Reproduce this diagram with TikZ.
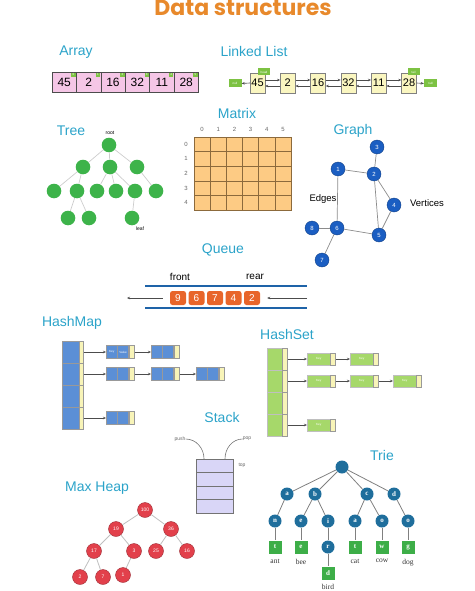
\documentclass[tikz,border=0pt]{standalone}
\usepackage{fontspec}
\setmainfont{Liberation Sans}
\newfontfamily\titlefont{Poppins}
\newfontfamily\wordfont{Liberation Serif}
\usepackage{tikz}
\usetikzlibrary{positioning, arrows.meta, shapes}
\usepackage{xcolor}
\definecolor{LabelBlue}{RGB}{43, 163, 201}
\definecolor{TitleOrange}{RGB}{232, 137, 43}
\definecolor{ArrPink}{RGB}{245, 198, 230}
\definecolor{ListYellow}{RGB}{250, 246, 192}
\definecolor{MarkGreen}{RGB}{125, 194, 67}
\definecolor{TreeGreen}{RGB}{61, 179, 74}
\definecolor{MatOrange}{RGB}{253, 203, 132}
\definecolor{MatBrown}{RGB}{140, 106, 60}
\definecolor{GraphBlue}{RGB}{27, 94, 194}
\definecolor{QueueBlue}{RGB}{30, 99, 168}
\definecolor{QueueOrange}{RGB}{232, 101, 42}
\definecolor{MapBlue}{RGB}{91, 143, 214}
\definecolor{StripYellow}{RGB}{248, 244, 184}
\definecolor{SetGreen}{RGB}{166, 216, 106}
\definecolor{StackLilac}{RGB}{217, 214, 247}
\definecolor{HeapRed}{RGB}{226, 64, 75}
\definecolor{TrieBlue}{RGB}{31, 110, 156}
\definecolor{TrieGreen}{RGB}{61, 174, 72}

\begin{document}
\begin{tikzpicture}[x=1pt, y=-1pt]
  \useasboundingbox (0,0) rectangle (474,591);
  \tikzstyle{lbl} = [font=\fontsize{14}{14}\selectfont, text=LabelBlue, inner sep=0pt]
  \tikzstyle{arr} = [draw=black!70, line width=0.6pt, -{Stealth[length=3pt, width=2.5pt]}]
  \tikzstyle{tiny} = [font=\fontsize{3}{3}\selectfont, inner sep=0pt]
  \tikzstyle{small} = [font=\fontsize{6}{6}\selectfont, text=black!60, inner sep=0pt]

  % Titel
  \node[font=\titlefont\bfseries\fontsize{22}{22}\selectfont, text=TitleOrange, anchor=base] (title) at (243,15.5) {Data structures};

  % Array
  \tikzstyle{arrcell} = [rectangle, draw=black!70, fill=ArrPink, minimum width=24.4pt, minimum height=20pt,
    inner sep=0pt, font=\fontsize{12}{12}\selectfont]
  \tikzstyle{arridx} = [rectangle, fill=MarkGreen, minimum size=4.5pt, inner sep=0pt, font=\fontsize{3}{3}\selectfont, text=white]
  \node[lbl] (arraylbl) at (76,52) {Array};
  \foreach \v [count=\i from 0] in {45,2,16,32,11,28} {
    \node[arrcell] (a\i) at (64.2+24.4*\i, 82) {\v};
    \node[arridx, anchor=north east] (ai\i) at ([xshift=-0.6pt, yshift=-0.6pt]a\i.north east) {\i};
  }

  % Linked List
  \tikzstyle{lcell} = [rectangle, draw=black!50, fill=ListYellow, minimum width=15pt, minimum height=20pt,
    inner sep=0pt, font=\fontsize{11}{11}\selectfont]
  \tikzstyle{lmark} = [rectangle, fill=MarkGreen, minimum width=13pt, minimum height=8pt, inner sep=0pt,
    font=\fontsize{3}{3}\selectfont, text=white]
  \node[lbl] (listlbl) at (254,51) {Linked List};
  \foreach \v [count=\i] in {45,2,16,32,11,28}
    \node[lcell] (l\i) at (257.5+30.3*\i-30.3, 83) {\v};
  \node[lmark] (nulll) at (235,83.5) {null};
  \node[lmark] (nullr) at (430.5,83.5) {null};
  \node[lmark, minimum width=12pt, minimum height=7pt] (head) at (264,72) {head};
  \node[lmark, minimum width=12pt, minimum height=7pt] (tail) at (413.5,72) {tail};
  \foreach \i [evaluate=\i as \j using int(\i+1)] in {1,...,5} {
    \draw[arr] ([yshift=3pt]l\i.east) -- ([yshift=3pt]l\j.west);
    \draw[arr] ([yshift=-3pt]l\j.west) -- ([yshift=-3pt]l\i.east);
  }
  \draw[arr] (l1.west) -- (nulll.east);
  \draw[arr] (l6.east) -- (nullr.west);

  % Tree
  \tikzstyle{tnode} = [circle, fill=TreeGreen, minimum size=14.6pt, inner sep=0pt]
  \tikzstyle{tedge} = [draw=black!20, line width=0.7pt]
  \node[lbl] (treelbl) at (71,131) {Tree};
  \node[tnode] (t0) at (109,145) {};
  \node[tnode] (t1) at (83,167) {};
  \node[tnode] (t2) at (110,167) {};
  \node[tnode] (t3) at (137,167) {};
  \foreach \x [count=\i from 4] in {54,77,97,116,135,156}
    \node[tnode] (t\i) at (\x,191) {};
  \node[tnode] (t10) at (68,218) {};
  \node[tnode] (t11) at (89,218) {};
  \node[tnode] (t12) at (132,218) {};
  \node[small, text=black, font=\fontsize{5}{5}\selectfont] (rootlbl) at (110,133) {root};
  \node[small, text=black, font=\fontsize{5}{5}\selectfont] (leaflbl) at (140,229) {leaf};
  \begin{scope}[on background layer/.try]
  \foreach \a/\b in {t0/t1,t0/t2,t0/t3,t1/t4,t1/t5,t2/t6,t2/t7,t2/t8,t3/t9,t5/t10,t5/t11,t8/t12}
    \draw[tedge] (\a) -- (\b);
  \end{scope}

  % Matrix
  \tikzstyle{mcell} = [rectangle, draw=MatBrown, fill=MatOrange, minimum width=16.17pt, minimum height=14.6pt, inner sep=0pt]
  \node[lbl] (matlbl) at (237,113) {Matrix};
  \foreach \r in {0,...,4}
    \foreach \c in {0,...,5}
      \node[mcell] (m\r\c) at (202.1+16.17*\c, 144.3+14.6*\r) {};
  \foreach \c in {0,...,5}
    \node[small] (mcol\c) at (202.1+16.17*\c, 129) {\c};
  \foreach \r in {0,...,4}
    \node[small] (mrow\r) at (186, 144.3+14.6*\r) {\r};

  % Graph
  \tikzstyle{gnode} = [circle, fill=GraphBlue, draw=GraphBlue!70!black, minimum size=14pt, inner sep=0pt,
    text=white, font=\fontsize{6}{6}\selectfont]
  \tikzstyle{gedge} = [draw=black!45, line width=0.7pt]
  \node[lbl] (graphlbl) at (353,131) {Graph};
  \foreach \n/\x/\y in {1/338/169, 2/374/174, 3/377/147, 4/394/205, 5/379/235, 6/337/228, 7/322/260, 8/312/228}
    \node[gnode] (g\n) at (\x,\y) {\n};
  \foreach \a/\b in {1/2,2/3,2/4,2/5,4/5,1/6,6/5,6/8,6/7}
    \draw[gedge] (g\a) -- (g\b);
  \node[font=\fontsize{9.5}{9.5}\selectfont] (edgeslbl) at (323,199) {Edges};
  \node[font=\fontsize{9.5}{9.5}\selectfont] (vertlbl) at (427,203) {Vertices};

  % Queue
  \tikzstyle{qitem} = [rectangle, rounded corners=2.5pt, fill=QueueOrange, minimum width=16pt, minimum height=14pt,
    inner sep=0pt, text=white, font=\fontsize{10}{10}\selectfont]
  \node[lbl] (queuelbl) at (223,250) {Queue};
  \draw[QueueBlue, line width=2pt] (145,286) -- (307,286);
  \draw[QueueBlue, line width=2pt] (145,308) -- (307,308);
  \foreach \v [count=\i] in {9,6,7,4,2}
    \node[qitem] (q\i) at (178+18.5*\i-18.5, 298) {\v};
  \coordinate (qout) at (127,298);
  \coordinate (qin) at (307,298);
  \draw[arr] ([xshift=-7pt]q1.west) -- (qout);
  \draw[arr] (qin) -- ([xshift=7pt]q5.east);
  \node[font=\fontsize{10}{10}\selectfont] (frontlbl) at (180,277) {front};
  \node[font=\fontsize{10}{10}\selectfont] (rearlbl) at (255,277) {rear};

  % HashMap
  \tikzstyle{hmcell} = [rectangle, draw=black!40, fill=MapBlue, inner sep=0pt]
  \tikzstyle{hmstrip} = [rectangle, draw=black!40, fill=StripYellow, inner sep=0pt]
  \node[lbl] (maplbl) at (72,323) {HashMap};
  \foreach \i in {1,...,4} {
    \node[hmcell, minimum width=17pt, minimum height=22pt] (hm\i) at (70.5, 330+22*\i) {};
    \node[hmstrip, minimum width=4pt, minimum height=22pt, right=0pt of hm\i] (hmp\i) {};
  }
  \foreach \r/\c/\x in {1/1/106,1/2/151,2/1/106,2/2/151,2/3/196,4/1/106} {
    \node[hmcell, minimum width=11pt, minimum height=13pt, anchor=west] (hk\r\c) at (\x, 330+22*\r) {};
    \node[hmcell, minimum width=11pt, minimum height=13pt, right=0pt of hk\r\c] (hv\r\c) {};
    \node[hmstrip, minimum width=5.5pt, minimum height=13pt, right=0pt of hv\r\c] (hp\r\c) {};
  }
  \node[tiny, text=white] (keytxt) at (hk11) {Key};
  \node[tiny, text=white] (valtxt) at (hv11) {Value};
  \draw[arr] (hmp1.east) -- (hk11.west);
  \draw[arr] (hp11.east) -- (hk12.west);
  \draw[arr] (hmp2.east) -- (hk21.west);
  \draw[arr] (hp21.east) -- (hk22.west);
  \draw[arr] (hp22.east) -- (hk23.west);
  \draw[arr] (hmp4.east) -- (hk41.west);

  % HashSet
  \tikzstyle{hscell} = [rectangle, draw=black!25, fill=SetGreen, inner sep=0pt]
  \node[lbl] (setlbl) at (287,334) {HashSet};
  \foreach \i in {1,...,4} {
    \node[hscell, minimum width=15pt, minimum height=22pt] (hs\i) at (274.5, 337+22*\i) {};
    \node[hmstrip, minimum width=5pt, minimum height=22pt, right=0pt of hs\i] (hsp\i) {};
  }
  \foreach \r/\c/\x in {1/1/307,1/2/350,2/1/307,2/2/350,2/3/393,4/1/307} {
    \node[hscell, minimum width=23pt, minimum height=12pt, anchor=west, tiny, text=white] (sk\r\c) at (\x, 337+22*\r) {Key};
    \node[hmstrip, minimum width=5pt, minimum height=12pt, right=0pt of sk\r\c] (sp\r\c) {};
  }
  \draw[arr] (hsp1.east) -- (sk11.west);
  \draw[arr] (sp11.east) -- (sk12.west);
  \draw[arr] (hsp2.east) -- (sk21.west);
  \draw[arr] (sp21.east) -- (sk22.west);
  \draw[arr] (sp22.east) -- (sk23.west);
  \draw[arr] (hsp4.east) -- (sk41.west);

  % Stack
  \tikzstyle{scell} = [rectangle, draw=black!55, fill=StackLilac, minimum width=37pt, minimum height=13.5pt, inner sep=0pt]
  \node[lbl] (stacklbl) at (222,417) {Stack};
  \foreach \i in {1,...,4}
    \node[scell] (s\i) at (214.5, 452.25+13.5*\i) {};
  \node[small, font=\fontsize{5}{5}\selectfont] (pushlbl) at (180,439) {push};
  \node[small, font=\fontsize{5}{5}\selectfont] (poplbl) at (247,439) {pop};
  \node[small, font=\fontsize{5}{5}\selectfont] (toplbl) at (242,465) {top};
  \draw[black!55, line width=0.6pt] (pushlbl.east) to[out=0, in=90] ([xshift=-10.5pt]s1.north);
  \draw[black!55, line width=0.6pt] ([xshift=10.5pt]s1.north) to[out=90, in=180] (poplbl.west);

  % Max Heap
  \tikzstyle{hnode} = [circle, fill=HeapRed, draw=HeapRed!70!black, minimum size=15pt, inner sep=0pt,
    text=white, font=\fontsize{5}{5}\selectfont]
  \node[lbl] (heaplbl) at (97,488) {Max Heap};
  \foreach \n/\v/\x/\y in {1/100/145/510, 2/19/116/529, 3/36/171/529, 4/17/94/551, 5/3/134/551,
      6/25/156/551, 7/16/187/551, 8/2/80/577, 9/7/103/577, 10/1/123/575}
    \node[hnode] (h\n) at (\x,\y) {\v};
  \foreach \a/\b in {1/2,1/3,2/4,2/5,3/6,3/7,4/8,4/9,5/10}
    \draw[black!25, line width=0.8pt] (h\a) -- (h\b);

  % Trie
  \tikzstyle{trnode} = [circle, fill=TrieBlue, minimum size=13pt, inner sep=0pt, text=white,
    font=\wordfont\bfseries\fontsize{7}{7}\selectfont]
  \tikzstyle{trleaf} = [rectangle, fill=TrieGreen, minimum size=13pt, inner sep=0pt, text=white,
    font=\wordfont\bfseries\fontsize{7}{7}\selectfont]
  \tikzstyle{trword} = [font=\wordfont\fontsize{7.5}{7.5}\selectfont, text=black!80, inner sep=0pt]
  \node[lbl] (trielbl) at (382,455) {Trie};
  \node[trnode] (tr0) at (342,467) {};
  \foreach \n/\v/\x in {a/a/287, b/b/315, c/c/367, d/d/394}
    \node[trnode] (tr\n) at (\x,494) {\v};
  \foreach \n/\v/\x in {an/n/275, be/e/301, bi/i/328, ca/a/355, co/o/382, do/o/408}
    \node[trnode] (tr\n) at (\x,521) {\v};
  \foreach \n/\v/\x in {ant/t/275, bee/e/301, cat/t/355, cow/w/382, dog/g/408}
    \node[trleaf] (tr\n) at (\x,547) {\v};
  \node[trnode] (trbir) at (328,547) {r};
  \node[trleaf] (trbird) at (328,573) {d};
  \foreach \w in {ant,bee,cat,cow,dog}
    \node[trword, below=5pt of tr\w] (wd\w) {\w};
  \node[trword, below=4pt of trbird] (wdbird) {bird};
  \foreach \a/\b in {0/a,0/b,0/c,0/d,a/an,b/be,b/bi,c/ca,c/co,d/do,an/ant,be/bee,bi/bir,ca/cat,co/cow,do/dog,bir/bird}
    \draw[black!50, line width=0.8pt] (tr\a) -- (tr\b);
\end{tikzpicture}
\end{document}
